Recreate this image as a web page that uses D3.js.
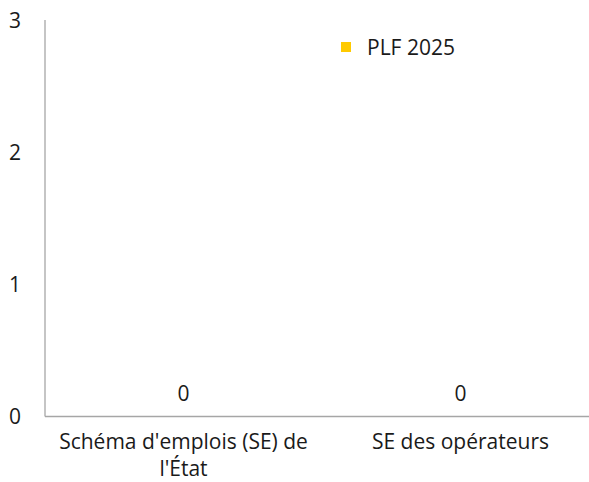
<!DOCTYPE html>
<html>
<head>
<meta charset="utf-8">
<script src="https://cdn.jsdelivr.net/npm/d3@7"></script>
<style>
  html, body { margin: 0; padding: 0; background: #ffffff; }
  svg { display: block; }
  text { font-family: "Open Sans", "Noto Sans", sans-serif; fill: #1a1a1a; }
</style>
</head>
<body>
<svg id="chart" width="589" height="482"></svg>
<script>
// Emplois : schéma d'emplois de l'État et des opérateurs
const categories = [["Schéma d'emplois (SE) de", "l'État"], ["SE des opérateurs"]];
const seriesName = "PLF 2025";
const values = [0, 0];
const yTicks = [0, 1, 2, 3];

const W = 589, H = 482;
const margin = { top: 20, right: -10, bottom: 65, left: 45 };
const fontSize = 21;
const svg = d3.select("#chart");

const x = d3.scaleBand()
  .domain(d3.range(categories.length))
  .range([margin.left, W - margin.right])
  .paddingInner(0.3).paddingOuter(0.15);

const y = d3.scaleLinear().domain([0, 3]).range([H - margin.bottom - 0.5, margin.top]);

const axisColor = "#a6a6a6";

// y axis line
svg.append("line")
  .attr("x1", margin.left).attr("x2", margin.left)
  .attr("y1", y(3)).attr("y2", y(0))
  .attr("stroke", axisColor).attr("stroke-width", 1.3);

// y tick labels
svg.append("g").selectAll("text").data(yTicks).join("text")
  .attr("x", 15).attr("y", d => y(d) + 7.5)
  .attr("text-anchor", "middle")
  .style("font-size", fontSize + "px")
  .text(d => d);

// bars (zero height)
svg.append("g").selectAll("rect").data(values).join("rect")
  .attr("x", (d, i) => x(i)).attr("width", x.bandwidth())
  .attr("y", d => y(d)).attr("height", d => y(0) - y(d))
  .attr("fill", "#ffca00");

// x axis baseline
svg.append("line")
  .attr("x1", margin.left).attr("x2", W)
  .attr("y1", y(0)).attr("y2", y(0))
  .attr("stroke", axisColor).attr("stroke-width", 1.3);

// data labels
svg.append("g").selectAll("text").data(values).join("text")
  .attr("x", (d, i) => x(i) + x.bandwidth() / 2)
  .attr("y", d => y(d) - 16)
  .attr("text-anchor", "middle")
  .style("font-size", fontSize + "px")
  .text(d => d);

// category labels
const cat = svg.append("g").selectAll("text").data(categories).join("text")
  .attr("x", (d, i) => x(i) + x.bandwidth() / 2)
  .attr("y", y(0) + 32)
  .attr("text-anchor", "middle")
  .style("font-size", fontSize + "px");
cat.selectAll("tspan").data(d => d).join("tspan")
  .attr("x", function () { return d3.select(this.parentNode).attr("x"); })
  .attr("dy", (d, j) => j === 0 ? 0 : 27)
  .text(d => d);

// legend
const lg = svg.append("g");
lg.append("rect").attr("x", 341).attr("y", 42).attr("width", 10).attr("height", 10).attr("fill", "#ffca00");
lg.append("text").attr("x", 367).attr("y", 55).style("font-size", fontSize + "px").text(seriesName);
</script>
</body>
</html>
